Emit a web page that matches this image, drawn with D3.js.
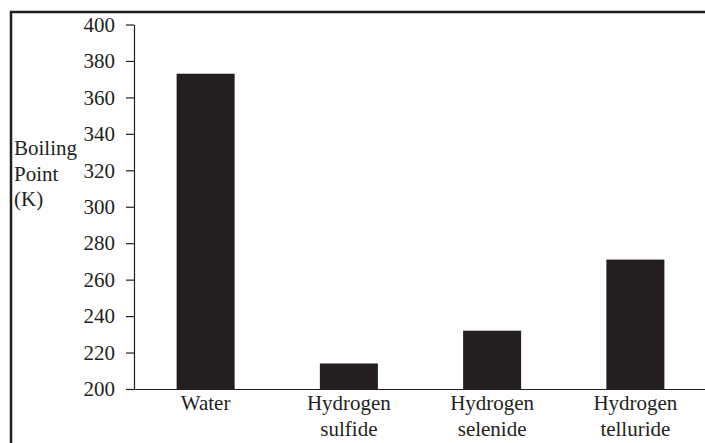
<!DOCTYPE html>
<html>
<head>
<meta charset="utf-8">
<script src="https://cdn.jsdelivr.net/npm/d3@7"></script>
<style>
  body { margin: 0; background: #fff; }
</style>
</head>
<body>
<div class="chart"></div>
<script>
// data
const compounds = ['Water', 'Hydrogen sulfide', 'Hydrogen selenide', 'Hydrogen telluride'];
const labelLines = [['Water'], ['Hydrogen', 'sulfide'], ['Hydrogen', 'selenide'], ['Hydrogen', 'telluride']];
const boilingPoints = [373, 214, 232, 271];
const yTicks = [200, 220, 240, 260, 280, 300, 320, 340, 360, 380, 400];
const yTitle = ['Boiling', 'Point', '(K)'];

const W = 705;
const H = 443;
const ink = '#231f20';
const serif = 'Liberation Serif';
const fontSize = 21;
const margin = { top: 24.5, left: 134, bottom: 389, right: 707 };

const svg = d3.select('.chart')
  .append('svg')
  .attr('width', W)
  .attr('height', H);

// outer frame (runs past the right and bottom edges)
svg.append('rect')
  .attr('x', 11)
  .attr('y', 12)
  .attr('width', W + 20)
  .attr('height', H + 20)
  .attr('fill', 'none')
  .attr('stroke', ink)
  .attr('stroke-width', 2.5);

const x = d3.scaleBand()
  .domain(compounds)
  .range([margin.left, margin.right])
  .paddingInner(0.595)
  .paddingOuter(0.2975);

const y = d3.scaleLinear()
  .domain([200, 400])
  .range([margin.bottom, margin.top]);

// bars
svg.selectAll('rect.bar')
  .data(compounds)
  .enter()
  .append('rect')
  .attr('class', 'bar')
  .attr('x', (d) => x(d))
  .attr('width', x.bandwidth())
  .attr('y', (d, i) => y(boilingPoints[i]))
  .attr('height', (d, i) => y(200) - y(boilingPoints[i]))
  .attr('fill', ink);

// y axis
const yAxis = svg.append('g')
  .attr('transform', `translate(${margin.left},0)`)
  .call(d3.axisLeft(y).tickValues(yTicks).tickSize(8).tickSizeOuter(0).tickPadding(11))
  .attr('font-family', serif)
  .attr('font-size', fontSize);
yAxis.select('.domain').attr('stroke', ink).attr('stroke-width', 1.2);
yAxis.selectAll('line').attr('stroke', ink).attr('stroke-width', 1.2);
yAxis.selectAll('text').attr('fill', ink);

// x axis baseline
const xAxis = svg.append('g')
  .attr('transform', `translate(0,${y(200)})`)
  .call(d3.axisBottom(x).tickSize(0).tickSizeOuter(0).tickFormat(''));
xAxis.select('.domain').attr('stroke', ink).attr('stroke-width', 1.2);

// category labels, one or two lines
svg.selectAll('text.cat')
  .data(compounds)
  .enter()
  .append('text')
  .attr('class', 'cat')
  .attr('text-anchor', 'middle')
  .attr('font-family', serif)
  .attr('font-size', fontSize)
  .attr('fill', ink)
  .each(function (d, i) {
    const t = d3.select(this);
    labelLines[i].forEach((line, j) => {
      t.append('tspan')
        .attr('x', x(d) + x.bandwidth() / 2)
        .attr('y', 410 + j * 26)
        .text(line);
    });
  });

// y title
svg.append('text')
  .attr('font-family', serif)
  .attr('font-size', fontSize)
  .attr('fill', ink)
  .selectAll('tspan')
  .data(yTitle)
  .enter()
  .append('tspan')
  .attr('x', 14)
  .attr('y', (d, i) => 155 + i * 25.5)
  .text((d) => d);
</script>
</body>
</html>
